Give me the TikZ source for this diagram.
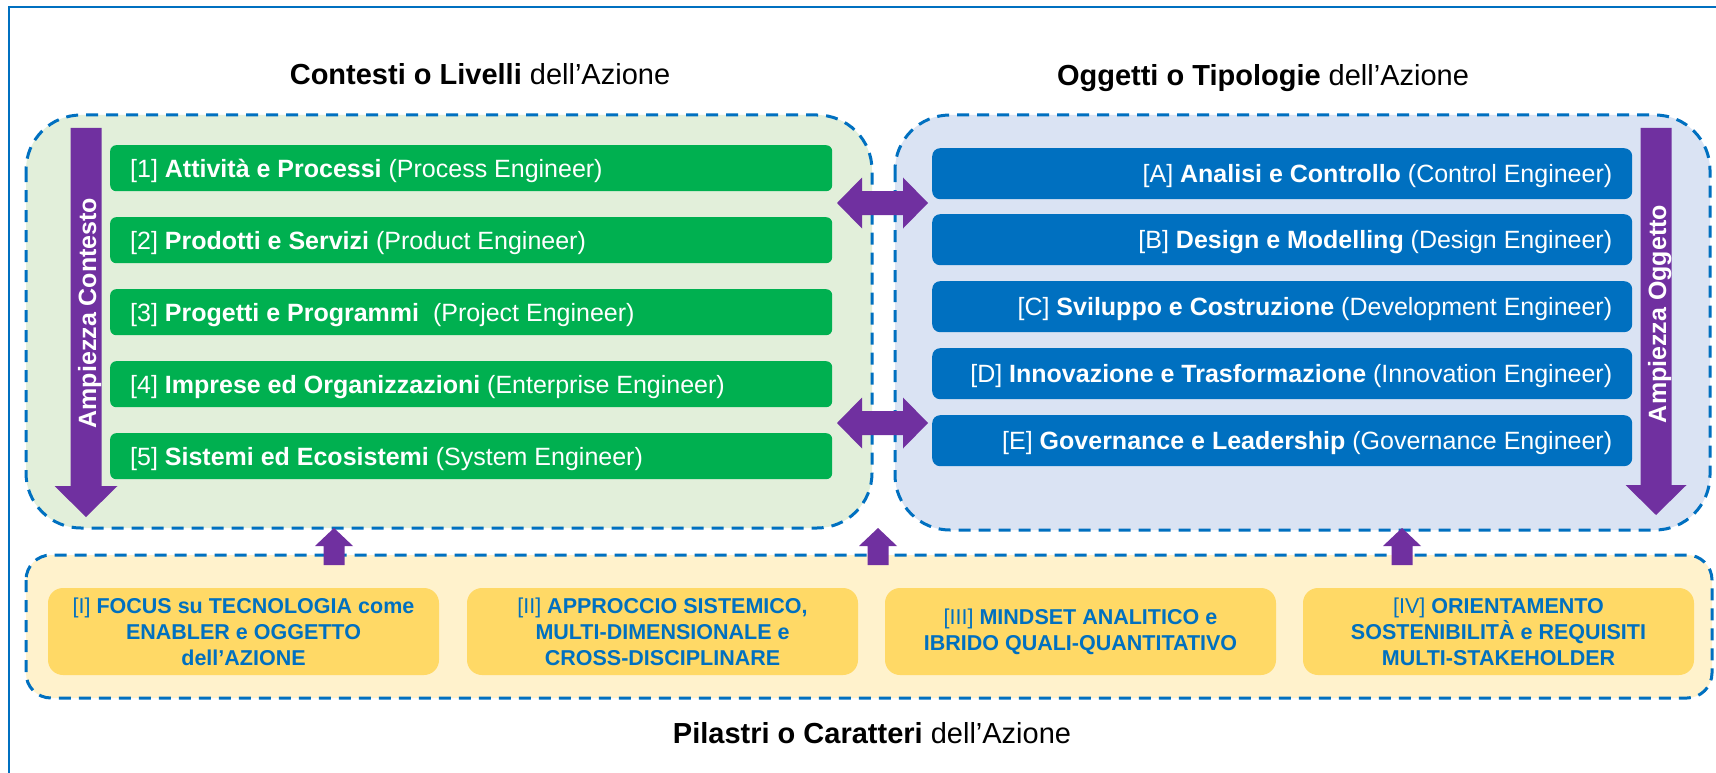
\documentclass[tikz,border=0pt]{standalone}
\usepackage{fontspec}
\setmainfont{Liberation Sans}
\definecolor{dblue}{HTML}{0070C0}
\definecolor{gbar}{HTML}{00B050}
\definecolor{gfill}{HTML}{E2EFDA}
\definecolor{bfill}{HTML}{DAE3F3}
\definecolor{yfill}{HTML}{FFF2CC}
\definecolor{ybox}{HTML}{FFD966}
\definecolor{purp}{HTML}{7030A0}
\newcommand{\bartxt}{\fontsize{25}{30}\selectfont}
\newcommand{\ttltxt}{\fontsize{29}{34}\selectfont}
\newcommand{\pilltxt}{\fontsize{21.5}{26}\selectfont}
\begin{document}
\begin{tikzpicture}[x=1pt,y=-1pt,
  dbox/.style={draw=dblue, line width=3pt, dash pattern=on 12pt off 8pt, rounded corners=55pt},
  gbarst/.style={fill=gbar, rounded corners=6pt, minimum width=722pt, minimum height=46pt, inner sep=0pt, anchor=north west},
  bbarst/.style={fill=dblue, rounded corners=8pt, minimum width=700pt, minimum height=51pt, inner sep=0pt, anchor=north west},
  ltxt/.style={anchor=base west, text=white, font=\bartxt, inner sep=0pt},
  rtxt/.style={anchor=base east, text=white, font=\bartxt, inner sep=0pt},
  pill/.style={fill=ybox, rounded corners=15pt, minimum width=391pt, minimum height=87pt, inner sep=0pt, align=center, text=dblue, font=\pilltxt},
  ttl/.style={anchor=base, font=\ttltxt, inner sep=0pt},
  arrtxt/.style={rotate=90, text=white, font=\fontsize{25}{30}\selectfont\bfseries, text height=18pt, text depth=0pt, inner sep=0pt}
]
\useasboundingbox (0,0) rectangle (1716,773);
\fill[white] (0,0) rectangle (1716,773);
% outer frame
\draw[dblue, line width=1.6pt] (9,773) -- (9,7) -- (1716,7);

% titles
\node[ttl] (t1) at (480,84.5) {\textbf{Contesti o Livelli} dell’Azione};
\node[ttl] (t2) at (1263,86) {\textbf{Oggetti o Tipologie} dell’Azione};
\node[ttl] (t3) at (872,743.5) {\textbf{Pilastri o Caratteri} dell’Azione};

% dashed containers
\draw[dbox, fill=gfill] (26,115) rectangle (872,528);
\draw[dbox, fill=bfill] (895,115) rectangle (1710,530);
\draw[dbox, fill=yfill, rounded corners=25pt] (26,555) rectangle (1712,698);

% green bars
\node[gbarst] (g1) at (110,145) {};
\node[gbarst] (g2) at (110,217) {};
\node[gbarst] (g3) at (110,289) {};
\node[gbarst] (g4) at (110,361) {};
\node[gbarst] (g5) at (110,433) {};
\node[ltxt] at ([xshift=20pt,yshift=-9pt]g1.west) {[1] \textbf{Attività e Processi} (Process Engineer)};
\node[ltxt] at ([xshift=20pt,yshift=-9pt]g2.west) {[2] \textbf{Prodotti e Servizi} (Product Engineer)};
\node[ltxt] at ([xshift=20pt,yshift=-9pt]g3.west) {[3] \textbf{Progetti e Programmi}\ \ (Project Engineer)};
\node[ltxt] at ([xshift=20pt,yshift=-9pt]g4.west) {[4] \textbf{Imprese ed Organizzazioni} (Enterprise Engineer)};
\node[ltxt] at ([xshift=20pt,yshift=-9pt]g5.west) {[5] \textbf{Sistemi ed Ecosistemi} (System Engineer)};

% blue bars
\node[bbarst] (b1) at (932,148) {};
\node[bbarst] (b2) at (932,214) {};
\node[bbarst] (b3) at (932,281) {};
\node[bbarst] (b4) at (932,348) {};
\node[bbarst] (b5) at (932,415) {};
\node[rtxt] at ([xshift=-20pt,yshift=-9pt]b1.east) {[A] \textbf{Analisi e Controllo} (Control Engineer)};
\node[rtxt] at ([xshift=-20pt,yshift=-9pt]b2.east) {[B] \textbf{Design e Modelling} (Design Engineer)};
\node[rtxt] at ([xshift=-20pt,yshift=-9pt]b3.east) {[C] \textbf{Sviluppo e Costruzione} (Development Engineer)};
\node[rtxt] at ([xshift=-20pt,yshift=-9pt]b4.east) {[D] \textbf{Innovazione e Trasformazione} (Innovation Engineer)};
\node[rtxt] at ([xshift=-20pt,yshift=-9pt]b5.east) {[E] \textbf{Governance e Leadership} (Governance Engineer)};

% vertical purple arrows
\fill[purp] (70.5,128) -- (101.5,128) -- (101.5,486) -- (117.5,486) -- (86,517) -- (54.5,486) -- (70.5,486) -- cycle;
\node[arrtxt] (aL) at (87,313) {Ampiezza Contesto};
\fill[purp] (1640.5,128) -- (1671.5,128) -- (1671.5,485) -- (1686.5,485) -- (1656,515) -- (1625.5,485) -- (1640.5,485) -- cycle;
\node[arrtxt] (aR) at (1657,314) {Ampiezza Oggetto};

% double arrows between containers
\foreach \yc in {203,423} {
  \fill[purp] (837,\yc) -- (862,{\yc-25.5}) -- (862,{\yc-12}) -- (903,{\yc-12}) -- (903,{\yc-25.5})
    -- (928,\yc) -- (903,{\yc+25.5}) -- (903,{\yc+12}) -- (862,{\yc+12}) -- (862,{\yc+25.5}) -- cycle;
}

% up arrows
\foreach \xc in {334,878,1402} {
  \fill[purp] (\xc,528) -- ({\xc+19},546) -- ({\xc+10.5},546) -- ({\xc+10.5},565) -- ({\xc-10.5},565)
    -- ({\xc-10.5},546) -- ({\xc-19},546) -- cycle;
}

% pillars
\node[pill] (p1) at (243.5,631.5) {[I] \textbf{FOCUS su TECNOLOGIA come}\\\textbf{ENABLER e OGGETTO}\\\textbf{dell’AZIONE}};
\node[pill] (p2) at (662.5,631.5) {[II] \textbf{APPROCCIO SISTEMICO,}\\\textbf{MULTI-DIMENSIONALE e}\\\textbf{CROSS-DISCIPLINARE}};
\node[pill] (p3) at (1080.5,631.5) {[III] \textbf{MINDSET ANALITICO e}\\\textbf{IBRIDO QUALI-QUANTITATIVO}};
\node[pill] (p4) at (1498.5,631.5) {[IV] \textbf{ORIENTAMENTO}\\\textbf{SOSTENIBILITÀ e REQUISITI}\\\textbf{MULTI-STAKEHOLDER}};
\end{tikzpicture}
\end{document}
